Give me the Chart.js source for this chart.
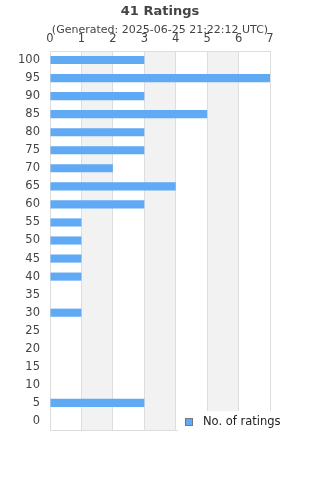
<!DOCTYPE html>
<html>
<head>
<meta charset="utf-8">
<script src="https://cdn.jsdelivr.net/npm/chart.js@4/dist/chart.umd.min.js"></script>
<style>
  html, body { margin: 0; padding: 0; background: #fff; }
  #wrap { width: 320px; height: 480px; }
</style>
</head>
<body>
<div id="wrap"><canvas id="ratingsChart" width="320" height="480"></canvas></div>
<script>
// chart data
const titleText = '41 Ratings';
const subtitleText = '(Generated: 2025-06-25 21:22:12 UTC)';
const scoreLabels = ['100', '95', '90', '85', '80', '75', '70', '65', '60', '55', '50',
                     '45', '40', '35', '30', '25', '20', '15', '10', '5', '0'];
const ratingCounts = [3, 7, 3, 5, 3, 3, 2, 4, 3, 1, 1, 1, 1, 0, 1, 0, 0, 0, 0, 3, 0];
const seriesLabel = 'No. of ratings';
const xMax = 7;

const barColor = '#60a9f5';
const textColor = '#444';
const fontFamily = '"DejaVu Sans", sans-serif';

// gray bands between every other gridline + bottom border
const bandsPlugin = {
    id: 'bands',
    beforeDraw(chart) {
        const { ctx, chartArea: a, scales: { x } } = chart;
        ctx.save();
        ctx.fillStyle = '#f2f2f2';
        for (let v = 1; v < xMax; v += 2) {
            const x0 = x.getPixelForValue(v);
            const x1 = x.getPixelForValue(Math.min(v + 1, xMax));
            ctx.fillRect(x0, a.top, x1 - x0, a.bottom - a.top);
        }
        ctx.strokeStyle = '#ddd';
        ctx.lineWidth = 1;
        ctx.beginPath();
        ctx.moveTo(a.left, a.bottom + 0.5);
        ctx.lineTo(a.right, a.bottom + 0.5);
        ctx.stroke();
        ctx.restore();
    }
};

// title, subtitle and the legend box in the lower right
const textPlugin = {
    id: 'texts',
    afterDraw(chart) {
        const { ctx, chartArea: a } = chart;
        ctx.save();
        ctx.fillStyle = textColor;
        ctx.textAlign = 'center';
        ctx.textBaseline = 'middle';
        ctx.font = 'bold 13px ' + fontFamily;
        ctx.fillText(titleText, 160, 11.5);
        ctx.font = '11px ' + fontFamily;
        ctx.fillText(subtitleText, 160, 30);

        // legend
        ctx.fillStyle = '#fff';
        ctx.fillRect(178, a.bottom - 19, 142, 40);
        ctx.fillStyle = barColor;
        ctx.fillRect(185.5, a.bottom - 11.5, 7, 7);
        ctx.strokeStyle = '#777';
        ctx.lineWidth = 1;
        ctx.strokeRect(185.5, a.bottom - 11.5, 7, 7);
        ctx.fillStyle = '#222';
        ctx.textAlign = 'left';
        ctx.font = '11.5px ' + fontFamily;
        ctx.fillText(chart.data.datasets[0].label, 203, a.bottom - 8);
        ctx.restore();
    }
};

const ctx = document.getElementById('ratingsChart').getContext('2d');
new Chart(ctx, {
    type: 'bar',
    data: {
        labels: scoreLabels,
        datasets: [{
            label: seriesLabel,
            data: ratingCounts,
            backgroundColor: barColor,
            borderWidth: 0,
            barPercentage: 0.45,
            categoryPercentage: 1
        }]
    },
    options: {
        indexAxis: 'y',
        responsive: false,
        animation: false,
        events: [],
        layout: { padding: { top: 0, left: 0, right: 50, bottom: 50 } },
        plugins: {
            legend: { display: false },
            title: { display: false },
            tooltip: { enabled: false }
        },
        scales: {
            x: {
                position: 'top',
                min: 0,
                max: xMax,
                ticks: {
                    stepSize: 1,
                    padding: 5,
                    color: textColor,
                    font: { family: fontFamily, size: 11.5 }
                },
                grid: { color: '#ddd', drawTicks: false },
                border: { color: '#ddd' },
                afterFit(scale) { scale.height = 51; }
            },
            y: {
                ticks: {
                    padding: 10,
                    color: textColor,
                    font: { family: fontFamily, size: 11.5 }
                },
                grid: { display: false, drawTicks: false },
                border: { color: '#ddd' },
                afterFit(scale) { scale.width = 50; }
            }
        }
    },
    plugins: [bandsPlugin, textPlugin]
});
</script>
</body>
</html>
